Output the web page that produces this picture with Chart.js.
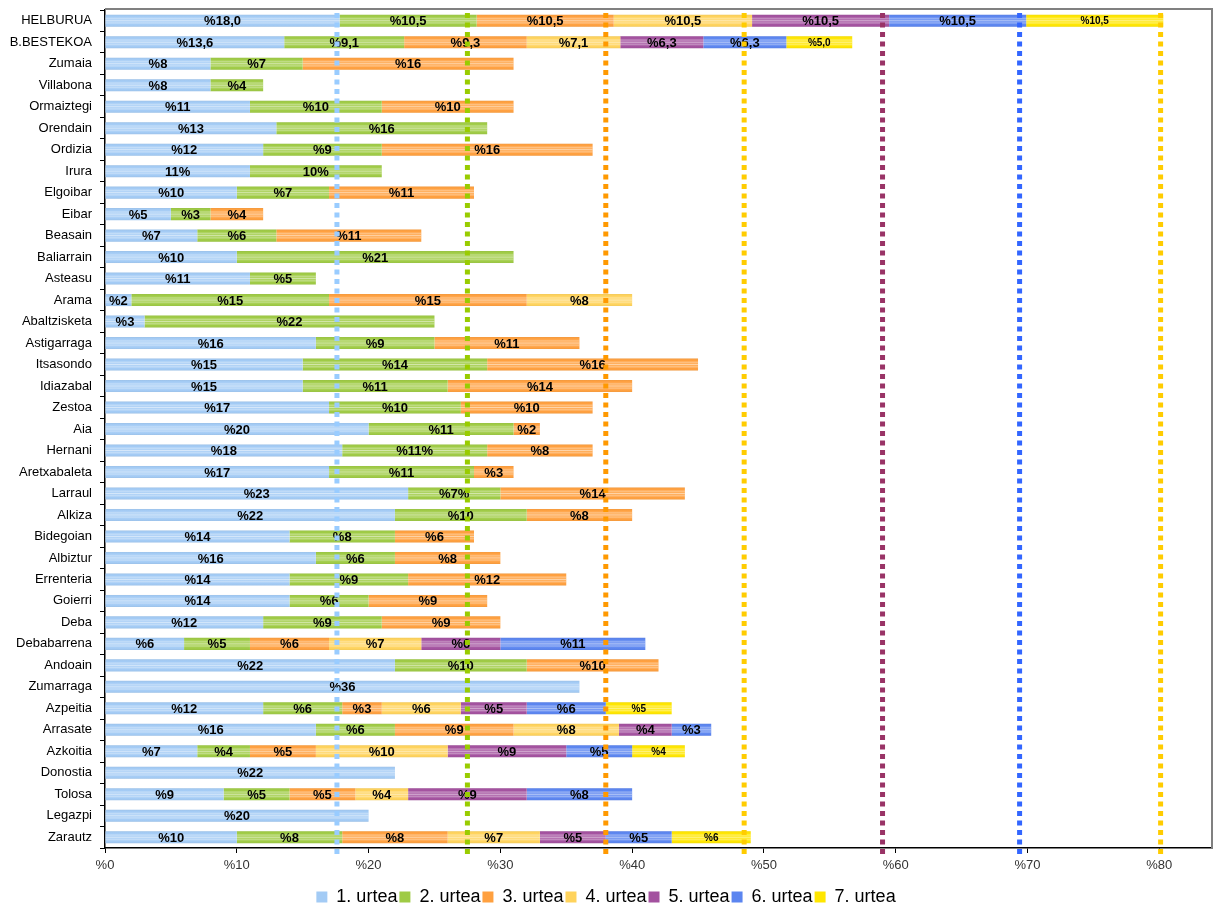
<!DOCTYPE html>
<html>
<head>
<meta charset="utf-8">
<script src="https://cdn.jsdelivr.net/npm/chart.js@4"></script>
<style>
  body { margin: 0; background: #fff; }
  #wrap { width: 1222px; height: 904px; }
</style>
</head>
<body>
<div id="wrap"><canvas id="urteakChart" width="1222" height="904"></canvas></div>
<script>
var herriak = [
  "HELBURUA", "B.BESTEKOA", "Zumaia", "Villabona", "Ormaiztegi", "Orendain",
  "Ordizia", "Irura", "Elgoibar", "Eibar", "Beasain", "Baliarrain", "Asteasu",
  "Arama", "Abaltzisketa", "Astigarraga", "Itsasondo", "Idiazabal", "Zestoa",
  "Aia", "Hernani", "Aretxabaleta", "Larraul", "Alkiza", "Bidegoian", "Albiztur",
  "Errenteria", "Goierri", "Deba", "Debabarrena", "Andoain", "Zumarraga",
  "Azpeitia", "Arrasate", "Azkoitia", "Donostia", "Tolosa", "Legazpi", "Zarautz",
];

// urte bakoitzeko ehunekoak (herriak-en ordena berean)
var urtea1 = [17.8, 13.6, 8, 8, 11, 13, 12, 11, 10, 5, 7, 10, 11, 2, 3, 16, 15, 15, 17,
  20, 18, 17, 23, 22, 14, 16, 14, 14, 12, 6, 22, 36, 12, 16, 7, 22, 9, 20, 10];
var urtea2 = [10.4, 9.1, 7, 4, 10, 16, 9, 10, 7, 3, 6, 21, 5, 15, 22, 9, 14, 11, 10,
  11, 11, 11, 7, 10, 8, 6, 9, 6, 9, 5, 10, null, 6, 6, 4, null, 5, null, 8];
var urtea3 = [10.4, 9.3, 16, null, 10, null, 16, null, 11, 4, 11, null, null, 15, null, 11, 16, 14, 10,
  2, 8, 3, 14, 8, 6, 8, 12, 9, 9, 6, 10, null, 3, 9, 5, null, 5, null, 8];
var urtea4 = [10.5, 7.1, null, null, null, null, null, null, null, null, null, null, null, 8, null, null, null, null, null,
  null, null, null, null, null, null, null, null, null, null, 7, null, null, 6, 8, 10, null, 4, null, 7];
var urtea5 = [10.4, 6.3, null, null, null, null, null, null, null, null, null, null, null, null, null, null, null, null, null,
  null, null, null, null, null, null, null, null, null, null, 6, null, null, 5, 4, 9, null, 9, null, 5];
var urtea6 = [10.4, 6.3, null, null, null, null, null, null, null, null, null, null, null, null, null, null, null, null, null,
  null, null, null, null, null, null, null, null, null, null, 11, null, null, 6, 3, 5, null, 8, null, 5];
var urtea7 = [10.4, 5.0, null, null, null, null, null, null, null, null, null, null, null, null, null, null, null, null, null,
  null, null, null, null, null, null, null, null, null, null, null, null, null, 5, null, 4, null, null, null, 6];

var urteIzenak = ["1. urtea", "2. urtea", "3. urtea", "4. urtea", "5. urtea", "6. urtea", "7. urtea"];

// HELBURUA barraren testuak (barrak apur bat laburragoak dira)
var helburuEtiketak = ["%18,0", "%10,5", "%10,5", "%10,5", "%10,5", "%10,5", "%10,5"];

// etiketa bereziak (jatorrizko grafikoan horrela idatzita)
var etiketaBereziak = {
  "Irura|0": "11%",
  "Irura|1": "10%",
  "Hernani|1": "%11%",
  "Larraul|1": "%7%",
};

// helburu lerro etenak
var helburuLerroak = [17.6, 27.5, 38, 48.5, 59, 69.4, 80.1];
var xMarkak = [0, 10, 20, 30, 40, 50, 60, 70, 80];

var barraKoloreak = ["#a3cbf5", "#9fcb45", "#ffa03f", "#ffd35c", "#a3519f", "#5b85f0", "#ffe600"];
var lerroKoloreak = ["#99ccff", "#99cc00", "#ff9900", "#ffcc00", "#993366", "#3366ff", "#ffcc00"];

var letra = "'Liberation Sans', Arial, sans-serif";

function etiketa(i, j, v) {
  if (j === 0) return helburuEtiketak[i];
  var gakoa = herriak[j] + "|" + i;
  if (etiketaBereziak[gakoa]) return etiketaBereziak[gakoa];
  if (j < 2) return "%" + v.toFixed(1).replace(".", ",");
  return "%" + v;
}

var barraMarrak = {
  id: "barraMarrak",
  afterDatasetsDraw: function (chart) {
    var ctx = chart.ctx;
    ctx.save();
    chart.data.datasets.forEach(function (ds, i) {
      var meta = chart.getDatasetMeta(i);
      meta.data.forEach(function (bar, j) {
        if (ds.data[j] == null) return;
        var p = bar.getProps(["x", "y", "base", "height"], true);
        var top = p.y - p.height / 2;
        var g = ctx.createLinearGradient(0, top, 0, top + p.height);
        g.addColorStop(0, "rgba(0,0,0,0.06)");
        g.addColorStop(0.18, "rgba(255,255,255,0)");
        g.addColorStop(0.32, "rgba(255,255,255,0.35)");
        g.addColorStop(0.42, "rgba(255,255,255,0.15)");
        g.addColorStop(0.5, "rgba(255,255,255,0.55)");
        g.addColorStop(0.58, "rgba(255,255,255,0.15)");
        g.addColorStop(0.68, "rgba(255,255,255,0.35)");
        g.addColorStop(0.82, "rgba(255,255,255,0)");
        g.addColorStop(1, "rgba(0,0,0,0.06)");
        ctx.fillStyle = g;
        ctx.fillRect(Math.min(p.x, p.base), top, Math.abs(p.x - p.base), p.height);
      });
    });
    ctx.fillStyle = "#000";
    ctx.textAlign = "center";
    ctx.textBaseline = "middle";
    chart.data.datasets.forEach(function (ds, i) {
      var meta = chart.getDatasetMeta(i);
      ctx.font = (i === 6 ? "bold 10px " : "bold 13px ") + letra;
      meta.data.forEach(function (bar, j) {
        var v = ds.data[j];
        if (v == null) return;
        var p = bar.getProps(["x", "y", "base"], true);
        ctx.fillText(etiketa(i, j, v), (p.x + p.base) / 2, p.y + 1);
      });
    });
    ctx.restore();
  },
  afterDraw: function (chart) {
    var ctx = chart.ctx;
    var a = chart.chartArea;
    var xs = chart.scales.x;
    ctx.save();
    // goiko eta eskuineko ertza
    ctx.strokeStyle = "#808080";
    ctx.lineWidth = 2;
    ctx.beginPath();
    ctx.moveTo(a.left, a.top - 1);
    ctx.lineTo(a.right, a.top - 1);
    ctx.lineTo(a.right, a.bottom);
    ctx.stroke();
    // helburu lerroak
    ctx.lineWidth = 5;
    ctx.setLineDash([5, 4.5]);
    helburuLerroak.forEach(function (v, i) {
      var x = xs.getPixelForValue(v);
      ctx.strokeStyle = lerroKoloreak[i];
      ctx.beginPath();
      ctx.moveTo(x, a.top + 3);
      ctx.lineTo(x, a.bottom + 6);
      ctx.stroke();
    });
    ctx.restore();
  },
};

var datuak = [urtea1, urtea2, urtea3, urtea4, urtea5, urtea6, urtea7];

var ctx = document.getElementById("urteakChart").getContext("2d");
var urteakChart = new Chart(ctx, {
  type: "bar",
  data: {
    labels: herriak,
    datasets: datuak.map(function (d, i) {
      return {
        label: urteIzenak[i],
        data: d,
        backgroundColor: barraKoloreak[i],
        borderWidth: 0,
        barPercentage: 0.56,
        categoryPercentage: 1,
      };
    }),
  },
  options: {
    indexAxis: "y",
    responsive: false,
    animation: false,
    layout: { padding: { top: 10, right: 10, left: 0, bottom: -12 } },
    plugins: {
      tooltip: { enabled: false },
      legend: {
        position: "bottom",
        labels: {
          boxWidth: 11,
          boxHeight: 11,
          padding: 2,
          color: "#000",
          font: { family: letra, size: 18 },
        },
      },
    },
    scales: {
      x: {
        stacked: true,
        min: 0,
        max: 84,
        afterBuildTicks: function (s) {
          s.ticks = xMarkak.map(function (v) { return { value: v }; });
        },
        afterFit: function (s) { s.height = 38; },
        border: { color: "#000", width: 1.5 },
        grid: { drawOnChartArea: false, drawTicks: true, tickLength: 5, color: "#000" },
        ticks: {
          color: "#333",
          padding: 5,
          font: { family: letra, size: 13 },
          callback: function (v) { return "%" + v; },
        },
      },
      y: {
        stacked: true,
        afterFit: function (s) {
          s.width = 105;
          s.paddingTop = 0;
          s.paddingBottom = 0;
        },
        border: { color: "#000", width: 1.5 },
        grid: { drawOnChartArea: false, drawTicks: true, tickLength: 5, color: "#000", offset: true },
        ticks: {
          color: "#000",
          padding: 8,
          autoSkip: false,
          font: { family: letra, size: 13 },
        },
      },
    },
  },
  plugins: [barraMarrak],
});
</script>
</body>
</html>
